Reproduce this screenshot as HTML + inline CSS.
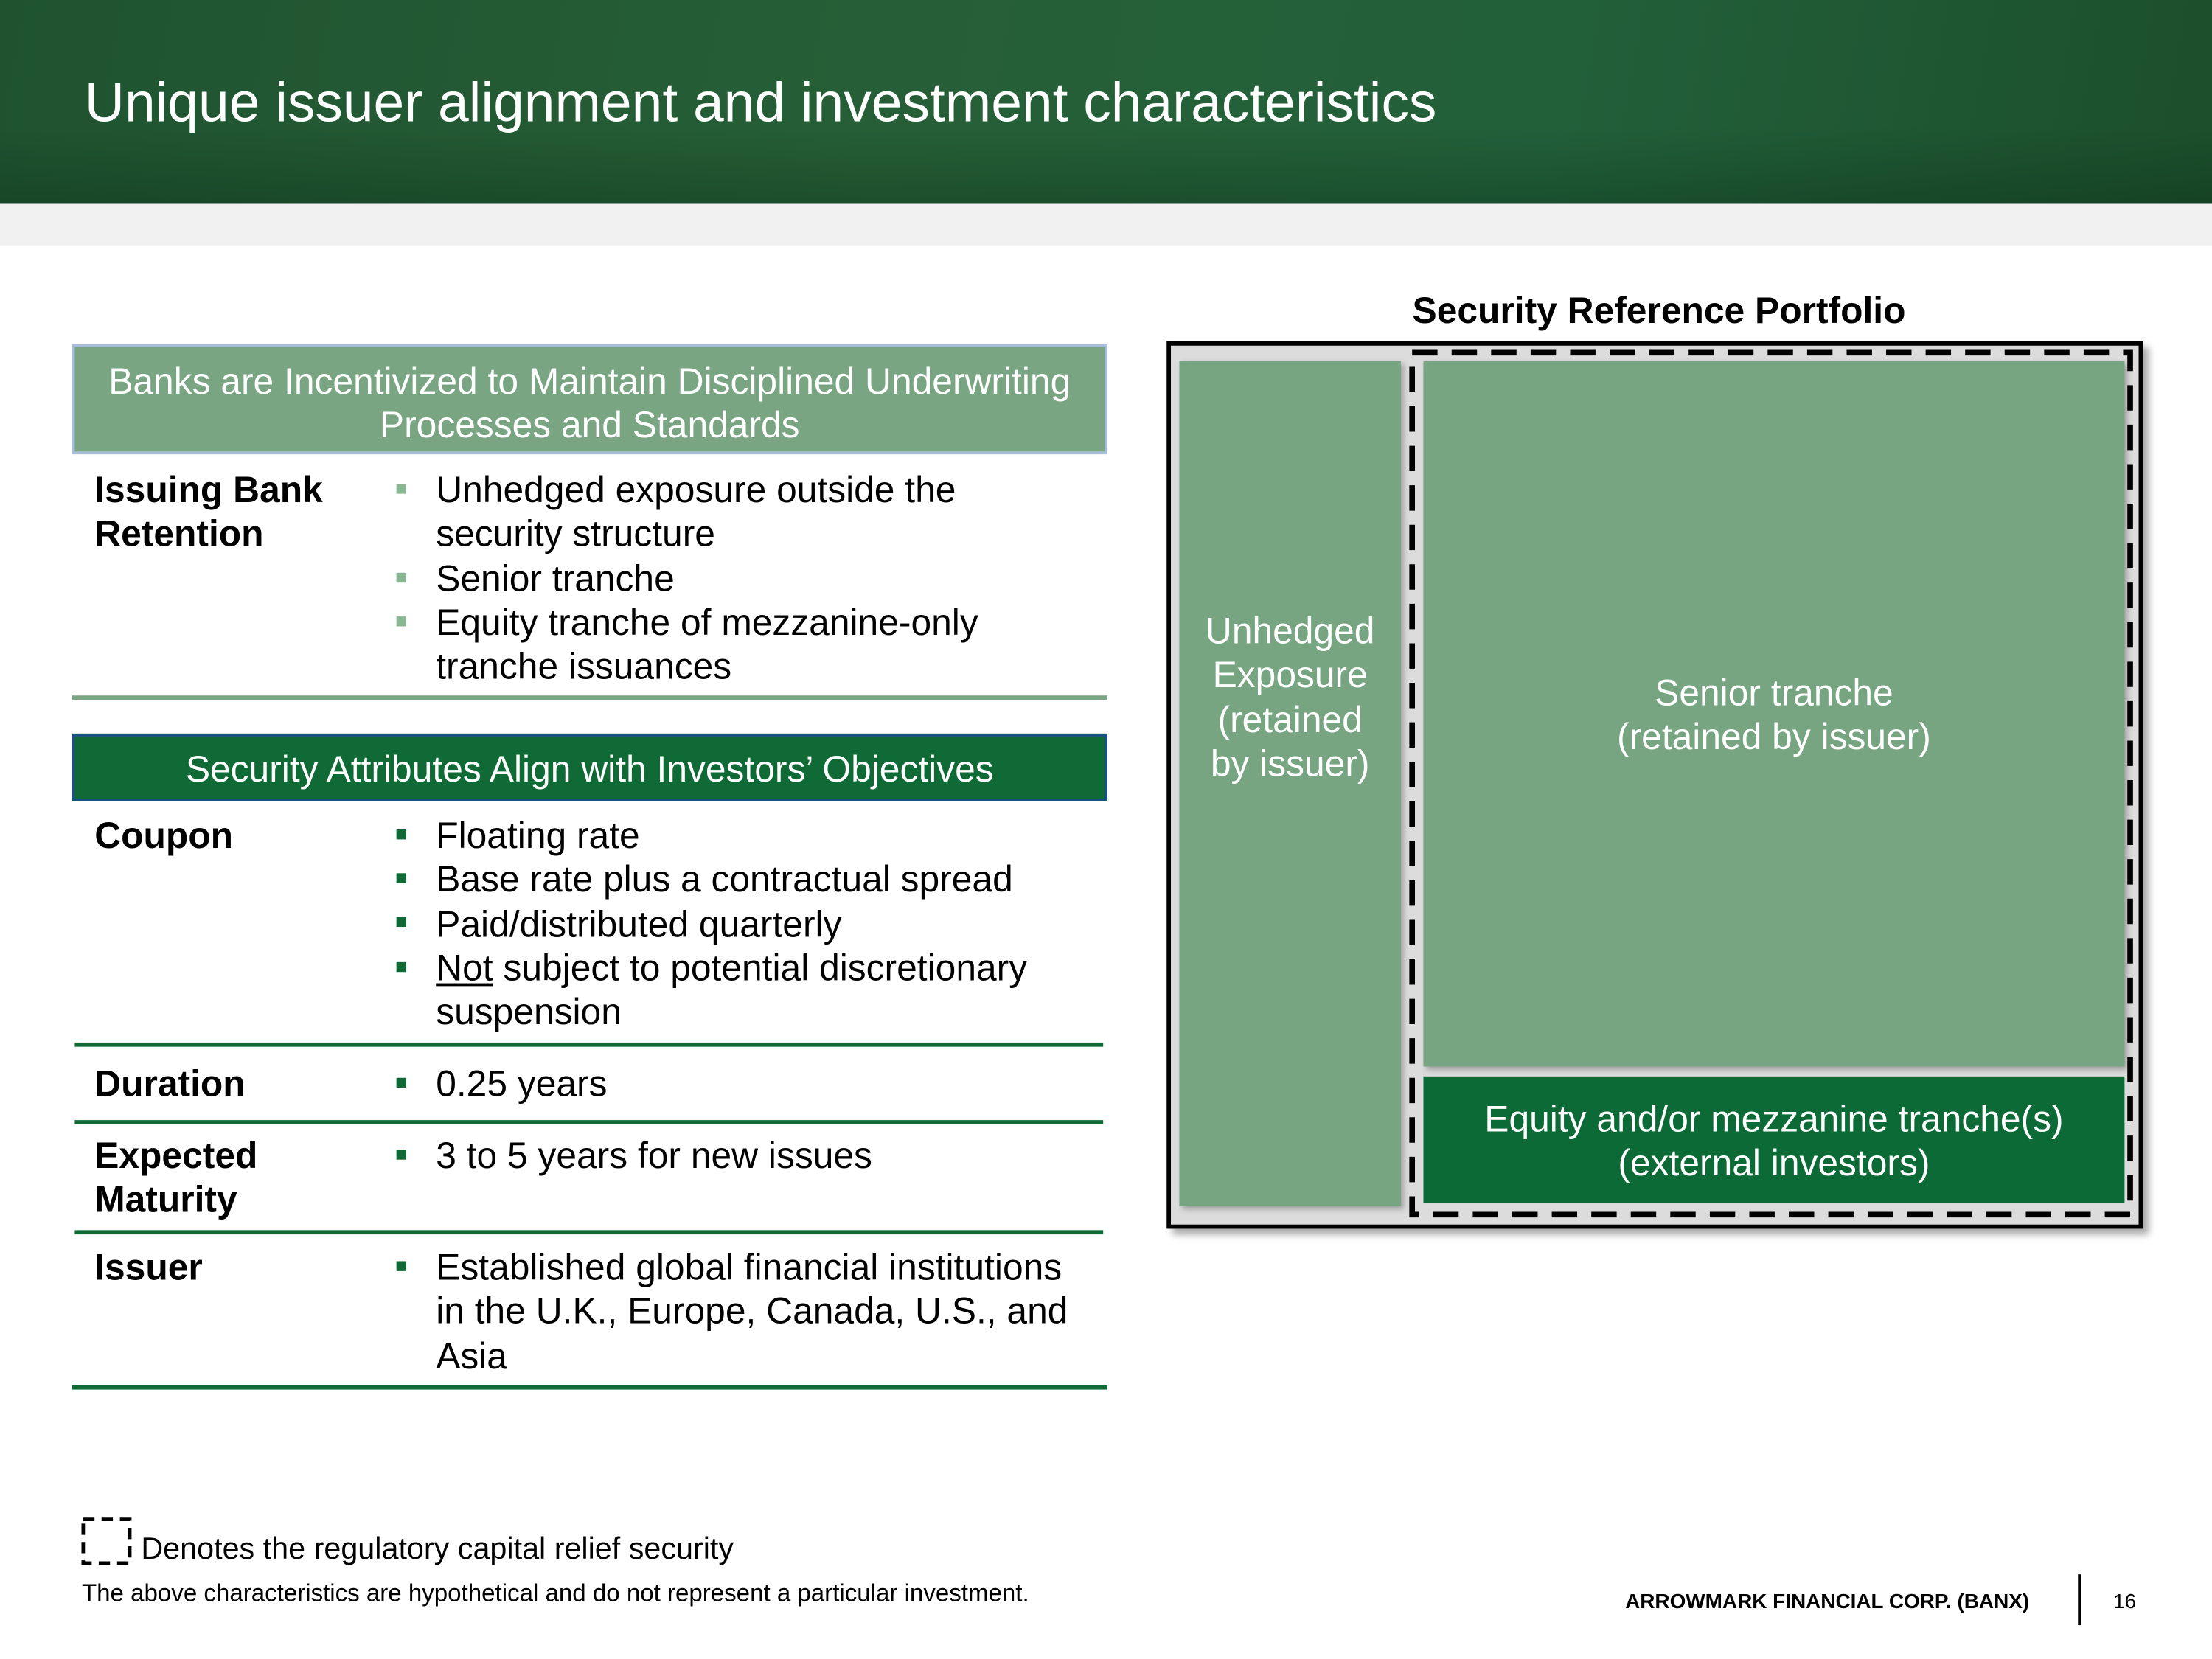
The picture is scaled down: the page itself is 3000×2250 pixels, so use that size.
<!DOCTYPE html>
<html><head><meta charset="utf-8"><style>
html,body{margin:0;padding:0;width:3000px;height:2250px;overflow:hidden;background:#fff}
#w{position:absolute;left:0;top:0;width:1568px;height:1176px;transform:scale(1.91327);transform-origin:0 0;font-family:"Liberation Sans",Arial,sans-serif;color:#000}
.a{position:absolute}
.hdr{left:0;top:0;width:1568px;height:144px;background:linear-gradient(100deg,#1f5330 0%,#265f37 40%,#22603a 70%,#1c4f2c 100%)}
.t{font-size:26px;line-height:31.3px}
.b{font-weight:bold}
.bul{position:absolute;width:7px;height:7px}
.line{position:absolute;height:3px;background:#0f6a35}
</style></head><body><div id="w">
<div class="a hdr"></div>
<div class="a" style="left:0;top:90px;width:1568px;height:54px;background:linear-gradient(180deg,rgba(0,0,0,0),rgba(0,30,10,0.25))"></div>
<div class="a" style="left:60px;top:51px;font-size:39.2px;color:#fff;line-height:46px">Unique issuer alignment and investment characteristics</div>
<div class="a" style="left:0;top:144px;width:1568px;height:30px;background:#f1f1f1"></div>

<div class="a" style="left:51px;top:244px;background:#7aa583;border:2px solid #a8bdd8;color:#fff;font-size:26px;line-height:31px;text-align:center;padding-top:9px;box-sizing:border-box;height:78px;width:734px">Banks are Incentivized to Maintain Disciplined Underwriting<br>Processes and Standards</div>
<div class="a t b" style="left:67px;top:332px">Issuing Bank<br>Retention</div>
<div class="a t" style="left:309px;top:332px">Unhedged exposure outside the<br>security structure<br>Senior tranche<br>Equity tranche of mezzanine-only<br>tranche issuances</div>
<div class="bul" style="left:281px;top:343px;background:#8ab793"></div>
<div class="bul" style="left:281px;top:406px;background:#8ab793"></div>
<div class="bul" style="left:281px;top:437px;background:#8ab793"></div>
<div class="line" style="left:51px;top:493px;width:734px;background:#7aa583"></div>

<div class="a" style="left:51px;top:520px;width:734px;height:48px;background:#0f6a35;border:2px solid #1b4f8a;box-sizing:border-box;color:#fff;font-size:26px;line-height:46px;text-align:center">Security Attributes Align with Investors’ Objectives</div>
<div class="a t b" style="left:67px;top:577px">Coupon</div>
<div class="a t" style="left:309px;top:577px">Floating rate<br>Base rate plus a contractual spread<br>Paid/distributed quarterly<br><u>Not</u> subject to potential discretionary<br>suspension</div>
<div class="bul" style="left:281px;top:588px;background:#0f6a35"></div>
<div class="bul" style="left:281px;top:619px;background:#0f6a35"></div>
<div class="bul" style="left:281px;top:650px;background:#0f6a35"></div>
<div class="bul" style="left:281px;top:682px;background:#0f6a35"></div>
<div class="line" style="left:53px;top:739px;width:729px"></div>
<div class="a t b" style="left:67px;top:753px">Duration</div>
<div class="a t" style="left:309px;top:753px">0.25 years</div>
<div class="bul" style="left:281px;top:764px;background:#0f6a35"></div>
<div class="line" style="left:53px;top:794px;width:729px"></div>
<div class="a t b" style="left:67px;top:804px">Expected<br>Maturity</div>
<div class="a t" style="left:309px;top:804px">3 to 5 years for new issues</div>
<div class="bul" style="left:281px;top:815px;background:#0f6a35"></div>
<div class="line" style="left:53px;top:872px;width:729px"></div>
<div class="a t b" style="left:67px;top:883px">Issuer</div>
<div class="a t" style="left:309px;top:883px">Established global financial institutions<br>in the U.K., Europe, Canada, U.S., and<br>Asia</div>
<div class="bul" style="left:281px;top:894px;background:#0f6a35"></div>
<div class="line" style="left:51px;top:982px;width:734px"></div>

<div class="a b" style="left:951px;top:204px;width:450px;text-align:center;font-size:26px;line-height:32px">Security Reference Portfolio</div>
<div class="a" style="left:827px;top:242px;width:692px;height:629px;box-sizing:border-box;border:3px solid #000;background:#dcdcdc;box-shadow:4px 4px 5px rgba(0,0,0,0.35)"></div>
<div class="a" style="left:836px;top:256px;width:157px;height:599px;background:#77a581;box-shadow:2px 2px 4px rgba(0,0,0,0.3)"></div>
<div class="a" style="left:826px;top:432px;width:177px;text-align:center;color:#fff;font-size:26px;line-height:31.3px">Unhedged<br>Exposure<br>(retained<br>by issuer)</div>
<div class="a" style="left:1009px;top:256px;width:497px;height:500px;background:#77a581;box-shadow:2px 2px 4px rgba(0,0,0,0.3)"></div>
<div class="a" style="left:989px;top:476px;width:537px;text-align:center;color:#fff;font-size:26px;line-height:31.3px">Senior tranche<br>(retained by issuer)</div>
<div class="a" style="left:1009px;top:763px;width:497px;height:90px;background:#0b6a35"></div>
<div class="a" style="left:989px;top:778px;width:537px;text-align:center;color:#fff;font-size:26px;line-height:31.3px">Equity and/or mezzanine tranche(s)<br>(external investors)</div>
<svg class="a" style="left:995px;top:244px" width="521" height="623"><rect x="6" y="6" width="509" height="611" fill="none" stroke="#000" stroke-width="4" stroke-dasharray="18,10"/></svg>

<svg class="a" style="left:57px;top:1074px" width="38" height="38"><rect x="2" y="3" width="33" height="31" fill="none" stroke="#000" stroke-width="2.5" stroke-dasharray="8,5"/></svg>
<div class="a" style="left:100px;top:1085px;font-size:21.6px;line-height:26px">Denotes the regulatory capital relief security</div>
<div class="a" style="left:58px;top:1119px;font-size:17.3px;line-height:20px">The above characteristics are hypothetical and do not represent a particular investment.</div>
<div class="a b" style="left:1152px;top:1127px;font-size:14.6px;line-height:18px">ARROWMARK FINANCIAL CORP. (BANX)</div>
<div class="a" style="left:1473px;top:1116px;width:2px;height:36px;background:#000"></div>
<div class="a" style="left:1498px;top:1127px;font-size:14.6px;line-height:18px">16</div>
</div></body></html>
